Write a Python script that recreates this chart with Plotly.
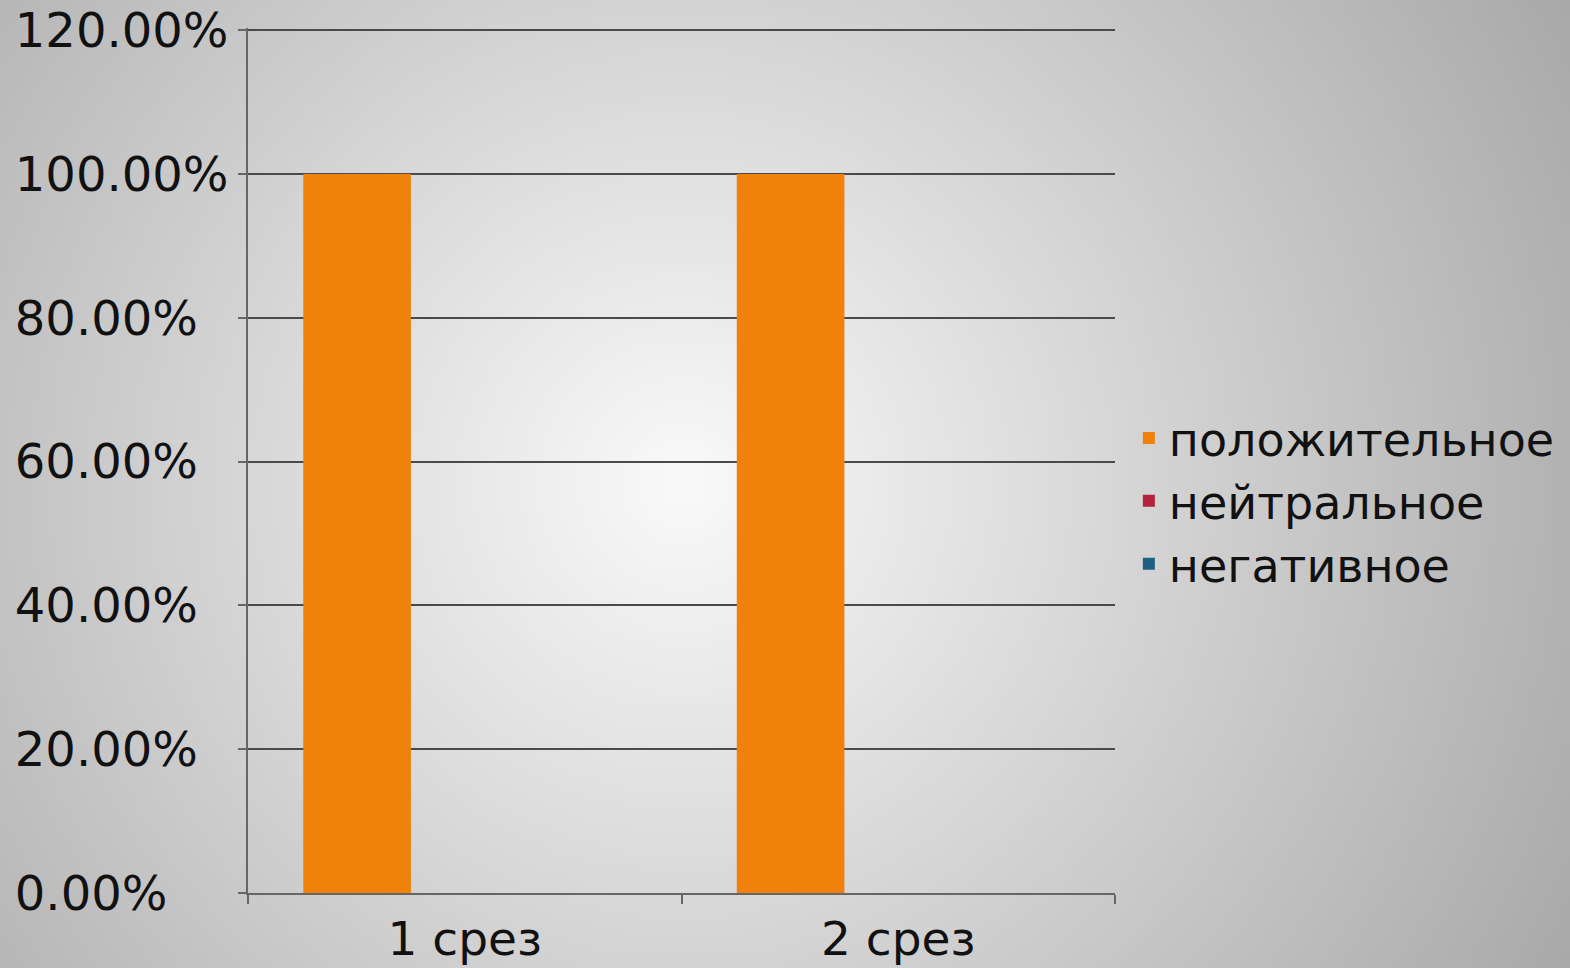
import base64, struct, zlib
import numpy as np
import plotly.graph_objects as go

categories = ["1 срез", "2 срез"]
series_names = ["положительное", "нейтральное", "негативное"]
positive = [1.0, 1.0]
neutral = [0.0, 0.0]
negative = [0.0, 0.0]
series_values = [positive, neutral, negative]
series_colors = ["#F0820C", "#B3243C", "#1F5F84"]
y_ticks = [0, 0.2, 0.4, 0.6, 0.8, 1.0, 1.2]

W, H = 1570, 968

# tick labels left-aligned by padding with figure spaces (digit-width)
max_len = max(len(f"{v:.2%}") for v in y_ticks)
y_ticktext = [f"{v:.2%}" + "\u2007" * (max_len - len(f"{v:.2%}")) for v in y_ticks]

# radial gradient background as PNG (built with numpy + zlib)
def gradient_png(w, h, scale):
    ys, xs = np.mgrid[0:h, 0:w]
    cx, cy = 680 / scale, 480 / scale
    d = np.sqrt((xs - cx) ** 2 + (ys - cy) ** 2) * scale
    v = np.clip(250 - 0.08 * d, 0, 255).astype(np.uint8)
    raw = b"".join(b"\x00" + v[r].tobytes() for r in range(h))
    def chunk(t, data):
        c = struct.pack(">I", len(data)) + t + data
        return c + struct.pack(">I", zlib.crc32(t + data) & 0xFFFFFFFF)
    png = b"\x89PNG\r\n\x1a\n"
    png += chunk(b"IHDR", struct.pack(">IIBBBBB", w, h, 8, 0, 0, 0, 0))
    png += chunk(b"IDAT", zlib.compress(raw, 9))
    png += chunk(b"IEND", b"")
    return "data:image/png;base64," + base64.b64encode(png).decode()

scale = 5
bg = gradient_png(W // scale, H // scale, scale)

fig = go.Figure()
for name, vals, col in zip(series_names, series_values, series_colors):
    fig.add_trace(go.Bar(x=categories, y=vals, name=name, marker_color=col,
                         marker_line_width=0))

L, R, T, B = 248, 455, 28, 75
pw, ph = W - L - R, H - T - B
font = "DejaVu Sans, Verdana, sans-serif"
fig.update_layout(
    width=W, height=H,
    barmode="group", bargap=0.255, bargroupgap=0,
    margin=dict(l=L, r=R, t=T, b=B, autoexpand=False),
    paper_bgcolor="rgba(0,0,0,0)", plot_bgcolor="rgba(0,0,0,0)",
    font=dict(family=font, size=48, color="#111111"),
    images=[dict(source=bg, xref="paper", yref="paper", x=-L / pw, y=1 + T / ph,
                 sizex=W / pw, sizey=H / ph, sizing="stretch", layer="below",
                 xanchor="left", yanchor="top")],
    legend=dict(x=1.016, y=0.453, xanchor="left", yanchor="middle",
                font=dict(size=46, family=font, color="#111111"),
                bgcolor="rgba(0,0,0,0)", itemwidth=30, tracegroupgap=0),
    showlegend=True,
)
fig.update_yaxes(range=[0, 1.203], tickvals=y_ticks, ticktext=y_ticktext,
                 automargin=False,
                 showgrid=True, gridcolor="#4a4a4a", gridwidth=2,
                 showline=True, linecolor="#666666", linewidth=2,
                 ticks="outside", ticklen=8, tickcolor="#666666", tickwidth=2,
                 zeroline=False, tickfont=dict(size=48))
fig.update_xaxes(showline=True, linecolor="#666666", linewidth=2,
                 automargin=False,
                 ticks="outside", tickson="boundaries", ticklen=9,
                 tickcolor="#666666", tickwidth=2, showgrid=False,
                 ticklabelstandoff=4, tickfont=dict(size=47))

fig.write_html("out.html", config={"displayModeBar": False},
               post_script="document.body.style.margin='0';document.body.style.padding='0';document.body.style.overflow='hidden';")
